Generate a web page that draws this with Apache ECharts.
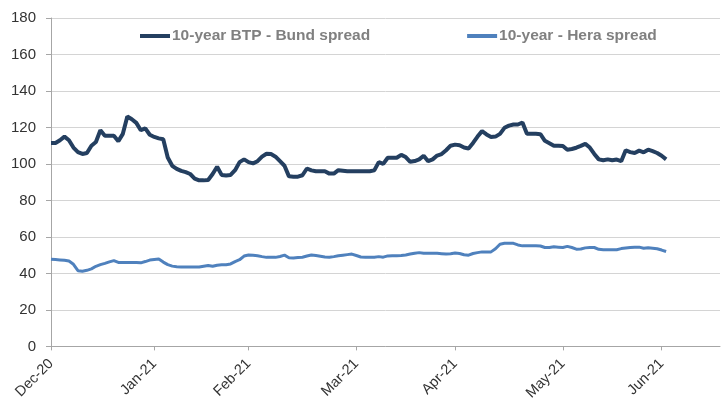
<!DOCTYPE html>
<html>
<head>
<meta charset="utf-8">
<script src="https://cdn.jsdelivr.net/npm/echarts@6/dist/echarts.min.js"></script>
<style>
  html, body { margin: 0; padding: 0; background: #fff; }
  #chart { width: 721px; height: 403px; }
</style>
</head>
<body>
<div id="chart"></div>
<script>
// trading-day slots on the x axis, month labels sit on these positions
const slotCount = 150;
const monthLabels = ['Dec-20', 'Jan-21', 'Feb-21', 'Mar-21', 'Apr-21', 'May-21', 'Jun-21'];
const monthIdx = [0, 23, 44, 68, 90, 114, 136];

const seriesNames = ['10-year BTP - Bund spread', '10-year - Hera spread'];

const btpBund = [
  111.5, 111.5, 113, 115, 113, 109, 106.5, 105.5, 106, 110,
  112, 118.5, 115.5, 115.5, 115.5, 112.5, 116.5, 126, 124.5, 122.5,
  118.5, 119.5, 116, 114.8, 114, 113.5, 103.5, 99, 97.3, 96.2,
  95.5, 94.5, 92, 91, 91, 91.2, 94.5, 98.5, 94, 93.7,
  94, 96.6, 101, 102.5, 101, 100.3, 101.5, 104, 105.6, 105.4,
  104, 101.5, 99, 93.2, 93, 93, 93.8, 97.5, 96.5, 96,
  96, 96, 94.7, 94.7, 96.6, 96.3, 96, 96, 96, 96,
  96, 96, 96.5, 101, 100, 103.4, 103.4, 103.4, 105, 103.8,
  101.2, 101.6, 102.5, 104.5, 101.5, 102.5, 104.6, 105.4, 107.5, 110,
  110.6, 110.3, 109, 108.5, 111.5, 115, 118, 116.2, 114.8, 115,
  116.5, 119.8, 121, 121.6, 121.6, 122.7, 116.5, 116.5, 116.5, 116.3,
  112.7, 111.4, 110, 110, 109.8, 107.8, 108.2, 108.9, 109.9, 111,
  109, 105.5, 102.5, 102, 102.5, 102, 102.4, 101.5, 107.5, 106.5,
  106, 107.3, 106.4, 107.8, 107, 106, 104.5, 102.5
];

const heraSpread = [
  47.8, 47.6, 47.4, 47.2, 46.8, 45, 41.5, 41.2, 41.7, 42.5,
  43.9, 44.8, 45.5, 46.3, 47, 46, 46, 46, 46, 46,
  45.8, 46.5, 47.3, 47.6, 47.9, 46.2, 44.8, 44, 43.7, 43.5,
  43.5, 43.5, 43.5, 43.5, 43.9, 44.3, 43.9, 44.5, 44.7, 44.8,
  45.2, 46.5, 47.5, 49.5, 50.1, 49.9, 49.7, 49.2, 48.8, 48.8,
  48.8, 49.3, 50, 48.6, 48.5, 48.7, 48.9, 49.5, 50.1, 49.8,
  49.4, 49, 48.9, 49.2, 49.7, 50, 50.3, 50.6, 49.8, 49,
  48.9, 48.8, 48.9, 49.2, 48.9, 49.6, 49.7, 49.7, 49.8, 50.1,
  50.6, 51.1, 51.4, 51, 51, 51.1, 51, 50.8, 50.6, 50.8,
  51.2, 50.9, 50.2, 50, 50.9, 51.4, 51.8, 51.8, 51.8, 53.5,
  56, 56.5, 56.5, 56.5, 55.6, 55.1, 55.1, 55.1, 55.1, 55,
  54.2, 54.2, 54.6, 54.4, 54.2, 54.8, 54.2, 53.3, 53.4, 54,
  54.2, 54.2, 53.2, 53, 53, 53, 53, 53.6, 53.9, 54.2,
  54.4, 54.4, 53.8, 54.1, 53.8, 53.5, 52.8, 52
];

const yTicks = { min: 0, max: 180, interval: 20 };

let categories = [];
for (let i = 0; i < slotCount; i++) categories.push(String(i));
const showMonth = (idx) => monthIdx.indexOf(idx) >= 0;

let myChart = echarts.init(document.getElementById('chart'));
let option = {
  animation: false,
  textStyle: { fontFamily: 'Liberation Sans, Arial, sans-serif' },
  grid: { left: 51, right: 1, top: 18, bottom: 53, containLabel: false },
  legend: {
    left: 140,
    top: 28,
    padding: 0,
    itemGap: 97,
    itemWidth: 30,
    itemHeight: 4,
    icon: 'rect',
    textStyle: { color: '#808080', fontSize: 15.5, fontWeight: 'bold', padding: [0, 0, 0, -3] },
    data: seriesNames
  },
  xAxis: {
    type: 'category',
    boundaryGap: false,
    data: categories,
    axisLine: { lineStyle: { color: '#a6a6a6', width: 1 } },
    axisTick: { show: true, interval: showMonth, length: 4, lineStyle: { color: '#a6a6a6' } },
    axisLabel: {
      interval: showMonth,
      rotate: 45,
      margin: 15,
      color: '#333333',
      fontSize: 14.5,
      formatter: (v) => monthLabels[monthIdx.indexOf(Number(v))] || ''
    },
    splitLine: { show: false }
  },
  yAxis: {
    type: 'value',
    min: yTicks.min,
    max: yTicks.max,
    interval: yTicks.interval,
    axisLine: { show: true, lineStyle: { color: '#a6a6a6', width: 1 } },
    axisTick: { show: true, length: 5, lineStyle: { color: '#a6a6a6' } },
    axisLabel: { color: '#333333', fontSize: 15, margin: 15 },
    splitLine: { lineStyle: { color: '#d4d4d4', width: 1 } }
  },
  series: [
    {
      name: seriesNames[0],
      type: 'line',
      data: btpBund,
      showSymbol: false,
      symbol: 'none',
      lineStyle: { color: '#243f60', width: 4 },
      itemStyle: { color: '#243f60' }
    },
    {
      name: seriesNames[1],
      type: 'line',
      data: heraSpread,
      showSymbol: false,
      symbol: 'none',
      lineStyle: { color: '#4f81bd', width: 3 },
      itemStyle: { color: '#4f81bd' }
    }
  ]
};

option && myChart.setOption(option);
</script>
</body>
</html>
